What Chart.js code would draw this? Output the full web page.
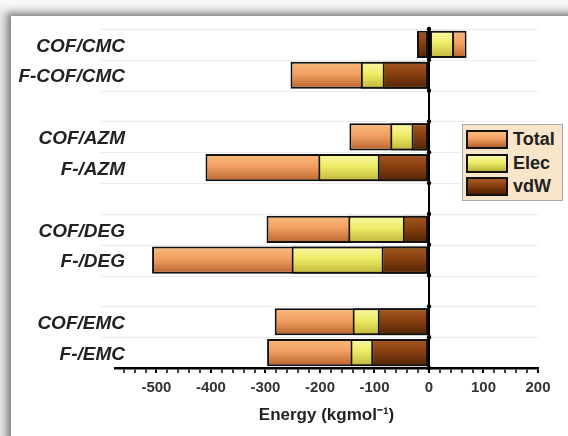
<!DOCTYPE html>
<html>
<head>
<meta charset="utf-8">
<script src="https://cdn.jsdelivr.net/npm/chart.js@4.4.1/dist/chart.umd.min.js"></script>
<style>
    body { margin: 0; background: #f2f2f2; }
    #wrap { position: relative; width: 568px; height: 436px; overflow: hidden;
        background: linear-gradient(#fbfbfb, #e4e4e4 16px); }
    #panel { position: absolute; left: 11px; top: 16px; width: 620px; height: 480px;
        background: #fff; box-shadow: -4px -3px 7px rgba(0, 0, 0, 0.45); }
    #chart-box { position: absolute; left: 0; top: 0; width: 568px; height: 436px; }
    #legend { position: absolute; left: 462px; top: 124px; width: 101px; height: 77px;
        box-sizing: border-box; background: #f8e5ca; border: 1px solid #a8a8a8;
        padding: 3px 0 0 3px; font: bold 18px "Liberation Sans", Arial, sans-serif; color: #222; }
    .leg-row { display: flex; align-items: center; height: 23.5px; }
    .leg-sw { width: 42px; height: 19px; border: 2px solid #111; margin-right: 5px; box-sizing: border-box; }
</style>
</head>
<body>
<div id="wrap">
    <div id="panel"></div>
    <div id="chart-box"><canvas id="myChart-Energy" width="568" height="436"></canvas></div>
    <div id="legend"></div>
</div>
<script>
const categories = ['COF/CMC', 'F-COF/CMC', '', 'COF/AZM', 'F-/AZM', '', 'COF/DEG', 'F-/DEG', '', 'COF/EMC', 'F-/EMC'];
const totalValues = [69, -254, null, -146, -410, null, -298, -508, null, -283, -297];
const elecValues = [46, -125, null, -71, -203, null, -148, -252, null, -140, -144];
const vdwValues = [-22, -85, null, -32, -94, null, -48, -87, null, -94, -106];
const xTickLabels = [-500, -400, -300, -200, -100, 0, 100, 200];

const xMin = -576, xMax = 200, minorStep = 20;
const labelFont = 'italic bold 19px "Liberation Sans", Arial, sans-serif';

// light, mid, dark
const totalColors = ['#f9bb7e', '#f2a062', '#b5602a'];
const elecColors = ['#f9f8aa', '#eeec66', '#bdb43a'];
const vdwColors = ['#a65a22', '#884010', '#4f2206'];

function barGradient(colors) {
    return (c) => {
        const chart = c.chart;
        if (!chart.chartArea || c.type !== 'data') { return colors[1]; }
        const y = chart.scales.y.getPixelForValue(c.dataIndex);
        const g = chart.ctx.createLinearGradient(0, y - 14, 0, y + 14);
        g.addColorStop(0, colors[0]);
        g.addColorStop(0.45, colors[1]);
        g.addColorStop(1, colors[2]);
        return g;
    };
}

function makeDataset(label, values, colors) {
    return {
        label: label,
        data: values,
        backgroundColor: barGradient(colors),
        borderColor: '#111',
        borderWidth: 2,
        borderSkipped: false,
        barPercentage: 0.88,
        categoryPercentage: 1
    };
}

// faint row lines (reaching under the labels) and the category names
const rowLabels = {
    id: 'rowLabels',
    beforeDatasetsDraw(chart) {
        const { ctx, scales } = chart;
        const step = (scales.y.bottom - scales.y.top) / categories.length;
        ctx.save();
        ctx.strokeStyle = '#ececec';
        ctx.lineWidth = 1;
        for (let i = 0; i < categories.length; i++) {
            const y = Math.round(scales.y.top + i * step) + 0.5;
            ctx.beginPath();
            ctx.moveTo(100, y);
            ctx.lineTo(scales.x.right, y);
            ctx.stroke();
        }
        ctx.restore();
    },
    afterDraw(chart) {
        const { ctx, scales } = chart;
        const x0 = scales.x.getPixelForValue(0);
        const step = (scales.y.bottom - scales.y.top) / categories.length;
        ctx.save();
        ctx.fillStyle = '#000';
        for (let i = 0; i <= categories.length; i++) {
            ctx.beginPath();
            ctx.arc(x0, scales.y.top + i * step, 2.2, 0, Math.PI * 2);
            ctx.fill();
        }
        ctx.fillStyle = '#222';
        ctx.font = labelFont;
        ctx.textAlign = 'right';
        ctx.textBaseline = 'middle';
        categories.forEach((name, i) => {
            if (name) { ctx.fillText(name, 125, scales.y.getPixelForValue(i) + 2); }
        });
        ctx.restore();
    }
};

document.addEventListener('DOMContentLoaded', () => {
    const ctx = document.getElementById('myChart-Energy').getContext('2d');
    window.energyChart = new Chart(ctx, {
        type: 'bar',
        data: {
            labels: categories,
            datasets: [
                makeDataset('vdW', vdwValues, vdwColors),
                makeDataset('Elec', elecValues, elecColors),
                makeDataset('Total', totalValues, totalColors)
            ]
        },
        options: {
            indexAxis: 'y',
            responsive: false,
            animation: false,
            layout: { padding: { left: 0, right: 30, top: 29, bottom: 0 } },
            plugins: { legend: { display: false }, tooltip: { enabled: false } },
            scales: {
                x: {
                    min: xMin,
                    max: xMax,
                    afterBuildTicks: (scale) => {
                        const ticks = [];
                        for (let v = -560; v <= xMax; v += minorStep) { ticks.push({ value: v }); }
                        scale.ticks = ticks;
                    },
                    afterFit: (scale) => { scale.height = 68; },
                    border: { display: true, color: '#000', width: 2.5 },
                    grid: {
                        color: (c) => (c.tick && c.tick.value === 0 ? '#000' : 'rgba(0,0,0,0)'),
                        lineWidth: 2,
                        tickColor: '#000',
                        tickLength: 5,
                        tickWidth: (c) => (c.tick && xTickLabels.includes(c.tick.value) ? 2 : 1.5)
                    },
                    ticks: {
                        autoSkip: false,
                        maxRotation: 0,
                        padding: 6,
                        color: '#333',
                        font: { family: '"Liberation Sans", Arial, sans-serif', size: 15, weight: 'bold' },
                        callback: (value) => (xTickLabels.includes(value) ? String(value) : '')
                    },
                    title: {
                        display: true,
                        text: 'Energy (kgmol⁻¹)',
                        color: '#222',
                        padding: { top: 0, bottom: 10 },
                        font: { family: '"Liberation Sans", Arial, sans-serif', size: 17, weight: 'bold' }
                    }
                },
                y: {
                    stacked: true,
                    afterFit: (scale) => { scale.width = 115; },
                    border: { display: false },
                    grid: { display: false },
                    ticks: { display: false }
                }
            }
        },
        plugins: [rowLabels]
    });

    // legend box
    const legend = document.getElementById('legend');
    [['Total', totalColors], ['Elec', elecColors], ['vdW', vdwColors]].forEach(([name, colors]) => {
        const row = document.createElement('div');
        const sw = document.createElement('div');
        const txt = document.createElement('span');
        row.classList.add('leg-row');
        sw.classList.add('leg-sw');
        sw.style.background = 'linear-gradient(' + colors[0] + ', ' + colors[1] + ' 45%, ' + colors[2] + ')';
        txt.textContent = name;
        row.appendChild(sw);
        row.appendChild(txt);
        legend.appendChild(row);
    });
});
</script>
</body>
</html>
